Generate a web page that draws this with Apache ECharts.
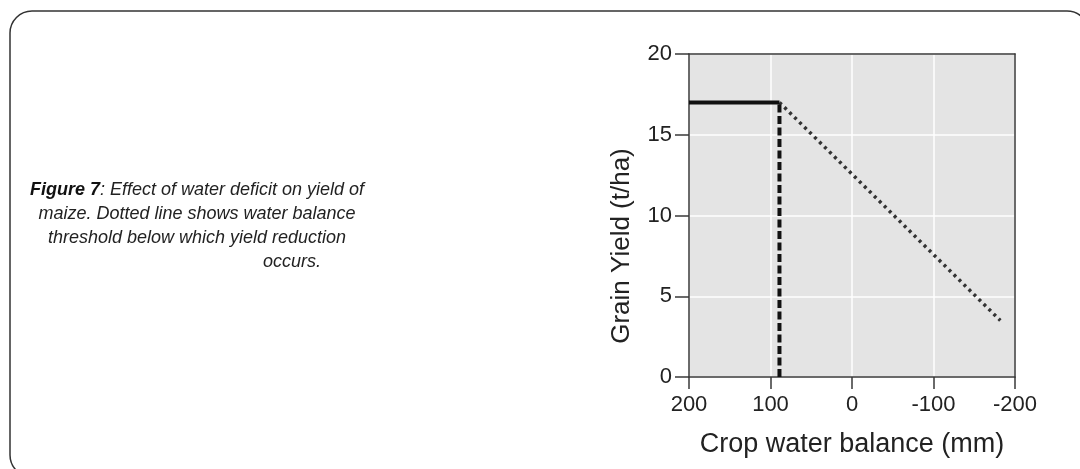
<!DOCTYPE html>
<html>
<head>
<meta charset="utf-8">
<script src="https://cdn.jsdelivr.net/npm/echarts@6/dist/echarts.min.js"></script>
<style>
  html, body { margin: 0; padding: 0; background: #fff; }
  #chart { width: 1080px; height: 469px; }
</style>
</head>
<body>
<div id="chart"></div>
<script>
// yield response to crop water balance (mm), x axis runs 200 -> -200
var plateauX = [200, 89];
var plateauY = [17, 17];
var thresholdX = [89, 89];
var thresholdY = [0, 17];
var declineX = [89, -182];
var declineY = [17, 3.5];

function pairs(xs, ys) {
    var out = [];
    for (var i = 0; i < xs.length; i++) out.push([xs[i], ys[i]]);
    return out;
}

var axisColor = '#3a3a3a';
var chart = echarts.init(document.getElementById('chart'));
var option = {
    animation: false,
    textStyle: { fontFamily: 'Liberation Sans, Arial, sans-serif' },
    grid: {
        left: 689, right: 65, top: 54, bottom: 92,
        show: true,
        backgroundColor: '#e4e4e4',
        borderWidth: 0
    },
    xAxis: [{
        type: 'value',
        min: -200, max: 200, interval: 100,
        inverse: true,
        name: 'Crop water balance (mm)',
        nameLocation: 'middle',
        nameGap: 54,
        nameTextStyle: { fontSize: 27, color: '#222' },
        axisLine: { onZero: false, lineStyle: { color: axisColor, width: 1.5 } },
        axisTick: { show: true, length: 12, lineStyle: { color: axisColor, width: 1.5 } },
        axisLabel: { fontSize: 22, color: '#222', margin: 17 },
        splitLine: { lineStyle: { color: '#fff', width: 1.5 } }
    }, {
        // top border of the plot box
        type: 'value', position: 'top',
        min: -200, max: 200, inverse: true,
        axisLine: { show: true, onZero: false, lineStyle: { color: axisColor, width: 1.5 } },
        axisTick: { show: false }, axisLabel: { show: false }, splitLine: { show: false }
    }],
    yAxis: [{
        type: 'value',
        min: 0, max: 20, interval: 5,
        axisLine: { show: true, onZero: false, lineStyle: { color: axisColor, width: 1.5 } },
        axisTick: { show: true, length: 14, lineStyle: { color: axisColor, width: 1.5 } },
        axisLabel: { fontSize: 22, color: '#222', margin: 17 },
        splitLine: { lineStyle: { color: '#fff', width: 1.5 } }
    }, {
        // right border of the plot box
        type: 'value', position: 'right',
        min: 0, max: 20,
        axisLine: { show: true, onZero: false, lineStyle: { color: axisColor, width: 1.5 } },
        axisTick: { show: false }, axisLabel: { show: false }, splitLine: { show: false }
    }],
    graphic: [
        {
            type: 'rect',
            shape: { x: 10, y: 11, width: 1079, height: 466, r: 22 },
            style: { fill: 'none', stroke: '#333', lineWidth: 1.5 },
            silent: true
        },
        {
            type: 'text',
            x: 622, y: 246,
            rotation: Math.PI / 2,
            style: {
                text: 'Grain Yield (t/ha)',
                font: '26px "Liberation Sans", Arial, sans-serif',
                fill: '#222',
                align: 'center',
                verticalAlign: 'middle'
            }
        },
        {
            type: 'text',
            x: 197, y: 214,
            style: {
                text: '{b|Figure 7}: Effect of water deficit on yield of\nmaize. Dotted line shows water balance\nthreshold below which yield reduction',
                font: 'italic 18px "Liberation Sans", Arial, sans-serif',
                fill: '#222',
                align: 'center',
                verticalAlign: 'middle',
                lineHeight: 24,
                rich: {
                    b: { font: 'italic bold 18px "Liberation Sans", Arial, sans-serif', fill: '#111', lineHeight: 24 }
                }
            }
        },
        {
            type: 'text',
            x: 292, y: 262,
            style: {
                text: 'occurs.',
                font: 'italic 18px "Liberation Sans", Arial, sans-serif',
                fill: '#222',
                align: 'center',
                verticalAlign: 'middle'
            }
        }
    ],
    series: [
        {
            name: 'decline',
            type: 'line',
            showSymbol: false,
            data: pairs(declineX, declineY),
            lineStyle: { color: '#333', width: 3.5, type: [3, 4], cap: 'butt' },
            z: 2
        },
        {
            name: 'threshold',
            type: 'line',
            showSymbol: false,
            data: pairs(thresholdX, thresholdY),
            lineStyle: { color: '#111', width: 4, type: [8, 3.5] },
            z: 3
        },
        {
            name: 'plateau',
            type: 'line',
            showSymbol: false,
            data: pairs(plateauX, plateauY),
            lineStyle: { color: '#111', width: 4 },
            z: 4
        }
    ]
};
chart.setOption(option);

window.onresize = function(){
    chart.resize();
};
</script>
</body>
</html>
